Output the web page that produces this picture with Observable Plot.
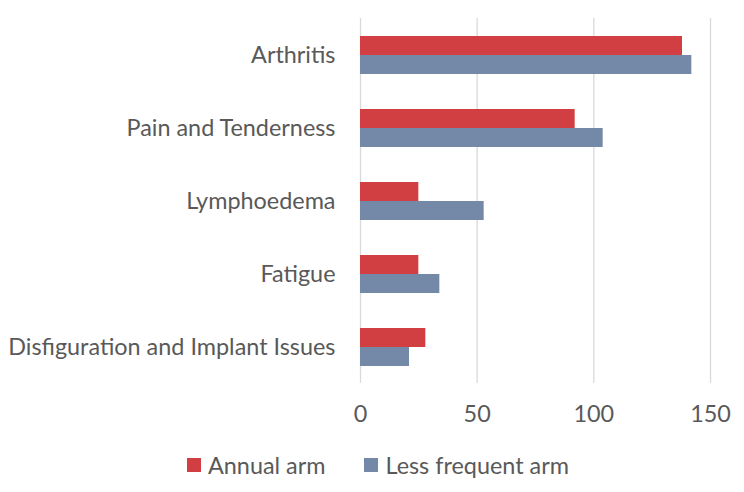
<!DOCTYPE html>
<html>
<head>
<meta charset="utf-8">
<script src="https://cdn.jsdelivr.net/npm/d3@7"></script>
<script src="https://cdn.jsdelivr.net/npm/@observablehq/plot@0.6"></script>
<style>
  html, body { margin: 0; padding: 0; background: #fff; }
  #chart { width: 744px; }
  .lg-swatches { justify-content: center; width: 744px; margin-top: 8px !important; position: relative; left: 6px; }
  div.lg-swatches span.lg-swatch { margin-right: 39px; }
  div.lg-swatches span.lg-swatch:last-child { margin-right: 0; }
  div.lg-swatches span.lg-swatch > svg { margin-right: 7px; }
</style>
</head>
<body>
<div id="chart"></div>
<script>
const categories = ["Arthritis", "Pain and Tenderness", "Lymphoedema", "Fatigue", "Disfiguration and Implant Issues"];
const series = ["Annual arm", "Less frequent arm"];
const annualValues = [138, 92, 25, 25, 28];
const lessFrequentValues = [142, 104, 53, 34, 21];
const xTicks = [0, 50, 100, 150];
const colors = ["#D13F42", "#7489A7"];

const data = [];
categories.forEach((c, i) => {
  data.push({category: c, series: series[0], value: annualValues[i]});
  data.push({category: c, series: series[1], value: lessFrequentValues[i]});
});

const font = "Lato, 'Open Sans', sans-serif";

const plot = Plot.plot({
  width: 744,
  height: 440,
  marginLeft: 360,
  marginRight: 34,
  marginTop: 16,
  marginBottom: 54.5,
  style: {fontFamily: font, fontSize: "23.4px", color: "#595959", background: "#fff"},
  x: {domain: [0, 150], ticks: xTicks, tickSize: 0, tickPadding: 22, label: null},
  fy: {domain: categories, padding: 0, label: null, tickSize: 0, tickPadding: 25},
  y: {domain: series, paddingInner: 0, paddingOuter: 0.912, axis: null},
  color: {domain: series, range: colors},
  marks: [
    Plot.ruleX(xTicks, {stroke: "#D9D9D9", strokeWidth: 1.3}),
    Plot.barX(data, {fy: "category", y: "series", x: "value", fill: "series", inset: 0})
  ]
});

document.getElementById("chart").appendChild(plot);

const legend = Plot.legend({
  color: {domain: series, range: colors},
  legend: "swatches",
  swatchSize: 14,
  className: "lg",
  style: {fontFamily: font, fontSize: "23.4px", color: "#595959"}
});
document.getElementById("chart").appendChild(legend);
</script>
</body>
</html>
